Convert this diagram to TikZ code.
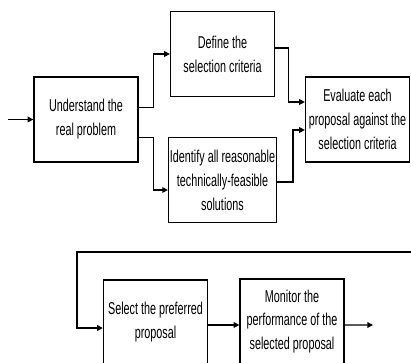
\documentclass[tikz,border=0pt]{standalone}
\usepackage{fontspec}
\setmainfont{Liberation Sans}[FakeStretch=0.63]
\usetikzlibrary{arrows.meta,calc}

\begin{document}
\begin{tikzpicture}[x=0.025cm,y=-0.025cm,
    box/.style={draw,line width=0.9pt,minimum width=2.6cm,minimum height=2.125cm,
      inner sep=1pt,align=center,font=\fontsize{12.2}{17}\selectfont},
    arr/.style={line width=0.9pt,-{Triangle[length=4pt,width=4pt]}}]
    \useasboundingbox (0,0) rectangle (411,362);
    \clip (0,0) rectangle (411,362);

    % Upper row of steps
    \node[box] (und) at (86,119.5) {Understand the\\real problem};
    \node[box] (def) at (222.5,54) {Define the\\selection criteria};
    \node[box] (idf) at (222.5,180) {Identify all reasonable\\technically-feasible\\solutions};
    \node[box] (evl) at (357.5,119.5) {Evaluate each\\proposal against the\\selection criteria};

    % Lower row of steps
    \node[box] (sel) at (155.5,322.5) {Select the preferred\\proposal};
    \node[box] (mon) at (292,321.5) {Monitor the\\performance of the\\selected proposal};

    % Free ends
    \coordinate (in) at (8,119.5);
    \coordinate (out) at (373,325);
    \coordinate (fb) at (412,252);

    % Connectors
    \draw[arr] (in) -- (und.west);
    \draw[arr] ($(und.east)+(0,-12)$) -- ++(15,0) |- (def.west);
    \draw[arr] ($(und.east)+(0,18)$) -- ++(15,0) |- ($(idf.west)+(0,10)$);
    \draw[arr] ($(def.east)+(0,-6)$) -- ++(13,0) |- ($(evl.west)+(0,-17.5)$);
    \draw[arr] ($(idf.east)+(0,2)$) -- ++(16,0) |- ($(evl.west)+(0,10.5)$);
    \draw[arr] (fb) -- (77,252) |- ($(sel.west)+(0,5.5)$);
    \draw[arr] ($(sel.east)+(0,2.5)$) -- ($(mon.west)+(0,3.5)$);
    \draw[arr] ($(mon.east)+(0,3.5)$) -- (out);
\end{tikzpicture}
\end{document}
